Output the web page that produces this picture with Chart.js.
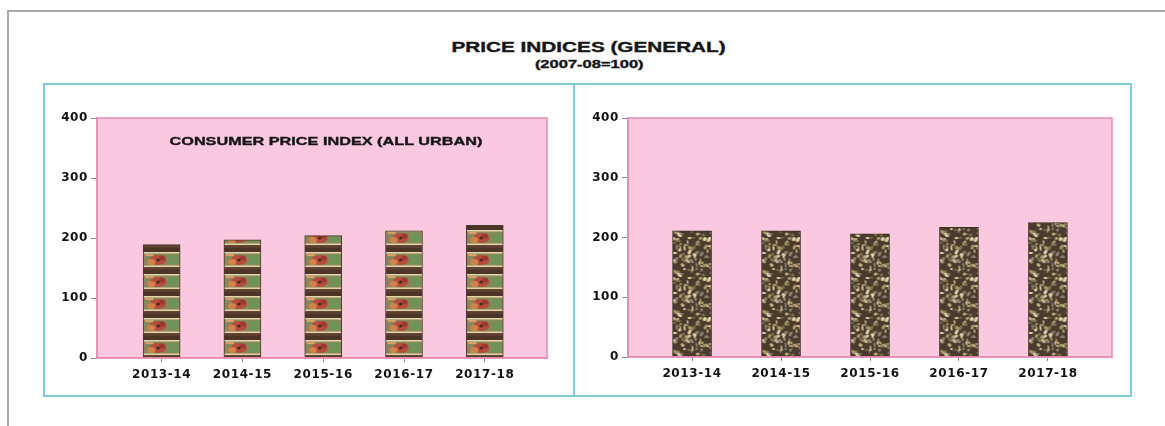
<!DOCTYPE html>
<html>
<head>
<meta charset="utf-8">
<script src="https://cdn.jsdelivr.net/npm/chart.js@4.4.0/dist/chart.umd.min.js"></script>
<style>
body { margin: 0; background: #fff; width: 1165px; height: 426px; overflow: hidden; position: relative; font-family: "Liberation Sans", Arial, sans-serif; }
#frame { position: absolute; left: 7px; top: 10px; width: 1200px; height: 460px; border-left: 2px solid #a8a8a8; border-top: 2px solid #a8a8a8; }
#box { position: absolute; left: 43px; top: 83px; width: 1085px; height: 310px; border: 2px solid #7fcbdd; }
#divider { position: absolute; left: 573px; top: 83px; width: 2px; height: 314px; background: #7fcbdd; }
.lbl { position: absolute; z-index: 5; font-weight: bold; color: #161616; -webkit-text-stroke: 0.35px #161616; white-space: nowrap; transform-origin: center center; }
.wrap { position: absolute; top: 85px; z-index: 1; }
</style>
</head>
<body>
<div id="frame"></div>
<div id="box"></div>
<div id="divider"></div>

<div class="wrap" style="left:45px;"><canvas id="leftChart" width="528" height="310"></canvas></div>
<div class="wrap" style="left:575px;"><canvas id="rightChart" width="555" height="310"></canvas></div>

<div class="lbl" id="title" style="font-size:14px;">PRICE INDICES (GENERAL)</div>
<div class="lbl" id="subtitle" style="font-size:11px;">(2007-08=100)</div>
<div class="lbl" id="cpiLabel" style="font-size:11px;">CONSUMER PRICE INDEX (ALL URBAN)</div>

<script>
// Data
const years = ['2013-14', '2014-15', '2015-16', '2016-17', '2017-18'];
const cpiUrban = [189, 197, 204, 212, 221];
const rightIndex = [211, 211, 206, 217, 225];
const yTicks = [0, 100, 200, 300, 400];

const pinkFill = '#fac8df';
const pinkLine = '#e68cb5';
const tickFont = { family: 'DejaVu Sans', weight: 'bold', size: 12 };

// Stretched html labels (centre x, centre y, target width)
function placeLabel(id, cx, cy, targetW) {
    const el = document.getElementById(id);
    const w = el.offsetWidth, h = el.offsetHeight;
    el.style.left = (cx - w / 2) + 'px';
    el.style.top = (cy - h / 2) + 'px';
    el.style.transform = 'scaleX(' + (targetW / w) + ')';
}
placeLabel('title', 588, 47, 274);
placeLabel('subtitle', 589, 64, 108);
placeLabel('cpiLabel', 326, 141, 313);

// Bar textures
function flowerTile() {
    const c = document.createElement('canvas');
    c.width = 37; c.height = 22;
    const g = c.getContext('2d');
    g.fillStyle = '#86875a'; g.fillRect(0, 0, 37, 22);
    g.fillStyle = '#4c3427'; g.fillRect(0, 0, 37, 4);
    g.fillStyle = '#e6d5ab'; g.fillRect(0, 4, 37, 1.5);
    g.fillStyle = '#d9a06a'; g.fillRect(2, 6, 8, 2);
    g.fillStyle = '#6f9258'; g.fillRect(25, 7, 10, 9);
    g.fillStyle = '#b84c3c';
    g.beginPath(); g.ellipse(15, 12, 8, 5, 0, 0, Math.PI * 2); g.fill();
    g.fillStyle = '#d4824c';
    g.beginPath(); g.ellipse(8, 14, 4, 3, 0, 0, Math.PI * 2); g.fill();
    g.fillStyle = '#9c3834';
    g.beginPath(); g.ellipse(19, 10, 3, 2.5, 0, 0, Math.PI * 2); g.fill();
    g.fillStyle = '#3a2a1e';
    g.beginPath(); g.arc(15, 12, 1.6, 0, Math.PI * 2); g.fill();
    g.fillStyle = '#e6d5ab'; g.fillRect(0, 17.5, 37, 1.5);
    g.fillStyle = '#5b3e2d'; g.fillRect(0, 19, 37, 3);
    return c;
}

function camoTile() {
    const c = document.createElement('canvas');
    c.width = 40; c.height = 40;
    const g = c.getContext('2d');
    g.fillStyle = '#4a3b2c'; g.fillRect(0, 0, 40, 40);
    const cols = ['#c8b489', '#e2d4b0', '#8d8677', '#7c7650', '#b09a6c'];
    for (let i = 0; i < 80; i++) {
        const x = (i * 37 + (i % 3) * 5) % 40;
        const y = (i * 23 + (i * i) % 17) % 40;
        g.fillStyle = cols[i % cols.length];
        g.beginPath();
        g.ellipse(x, y, 1.4 + (i % 3) * 0.7, 0.9 + (i % 2) * 0.7, (i % 4) * 0.7, 0, Math.PI * 2);
        g.fill();
    }
    return c;
}

const tiles = { left: flowerTile(), right: camoTile() };

function barPattern(tile, width) {
    return function(ctx) {
        const chart = ctx.chart;
        if (!chart.scales || !chart.scales.x || !chart.chartArea) return '#6b5040';
        const x = chart.scales.x.getPixelForValue(ctx.dataIndex) - width / 2;
        const p = chart.ctx.createPattern(tile, 'repeat');
        p.setTransform(new DOMMatrix().translate(x, chart.chartArea.bottom));
        return p;
    };
}

// Pink plot area with outline, letter spacing for the tick labels
const plotArea = {
    id: 'plotArea',
    beforeDraw(chart) {
        const a = chart.chartArea, ctx = chart.ctx;
        ctx.letterSpacing = '0.6px';
        ctx.save();
        ctx.fillStyle = pinkFill;
        ctx.fillRect(a.left, a.top, a.right - a.left, a.bottom - a.top);
        ctx.restore();
    },
    afterDraw(chart) {
        const a = chart.chartArea, ctx = chart.ctx;
        ctx.save();
        ctx.strokeStyle = pinkLine;
        ctx.lineWidth = 1.5;
        ctx.strokeRect(a.left, a.top, a.right - a.left, a.bottom - a.top);
        ctx.restore();
    }
};

function makeChart(id, values, cfg) {
    return new Chart(document.getElementById(id), {
        type: 'bar',
        data: {
            datasets: [{
                data: values.map((v, i) => ({ x: i, y: v })),
                backgroundColor: barPattern(cfg.tile, cfg.barW),
                borderColor: cfg.border,
                borderWidth: 1,
                barThickness: cfg.barW
            }]
        },
        options: {
            responsive: false,
            animation: false,
            layout: { padding: { left: 0, top: 33, right: cfg.right, bottom: 0 } },
            plugins: { legend: { display: false }, tooltip: { enabled: false } },
            scales: {
                x: {
                    type: 'linear',
                    offset: false,
                    min: cfg.xMin,
                    max: cfg.xMax,
                    afterFit: s => { s.height = cfg.xh; },
                    afterBuildTicks: s => { s.ticks = years.map((y, i) => ({ value: i })); },
                    grid: { offset: false, drawOnChartArea: false, drawTicks: true, tickLength: 4, color: '#8a8a8a' },
                    border: { color: pinkLine, width: 1.5 },
                    ticks: {
                        autoSkip: false, maxRotation: 0,
                        padding: 6, color: '#111', font: tickFont,
                        callback: v => years[v] !== undefined ? years[v] : ''
                    }
                },
                y: {
                    min: yTicks[0],
                    max: yTicks[yTicks.length - 1],
                    afterFit: s => { s.width = cfg.yw; },
                    afterBuildTicks: s => { s.ticks = yTicks.map(v => ({ value: v })); },
                    grid: { drawOnChartArea: false, drawTicks: true, tickLength: 6, color: '#8a8a8a' },
                    border: { color: pinkLine, width: 1.5 },
                    ticks: { padding: 3, color: '#111', font: tickFont }
                }
            }
        },
        plugins: [plotArea]
    });
}

makeChart('leftChart', cpiUrban, {
    tile: tiles.left, barW: 37, border: '#4b3a2e',
    xMin: -0.8, xMax: 4.77, right: 26, xh: 37, yw: 52
});

makeChart('rightChart', rightIndex, {
    tile: tiles.right, barW: 39, border: '#3a2d22',
    xMin: -0.72, xMax: 4.72, right: 18, xh: 38, yw: 53
});
</script>
</body>
</html>
